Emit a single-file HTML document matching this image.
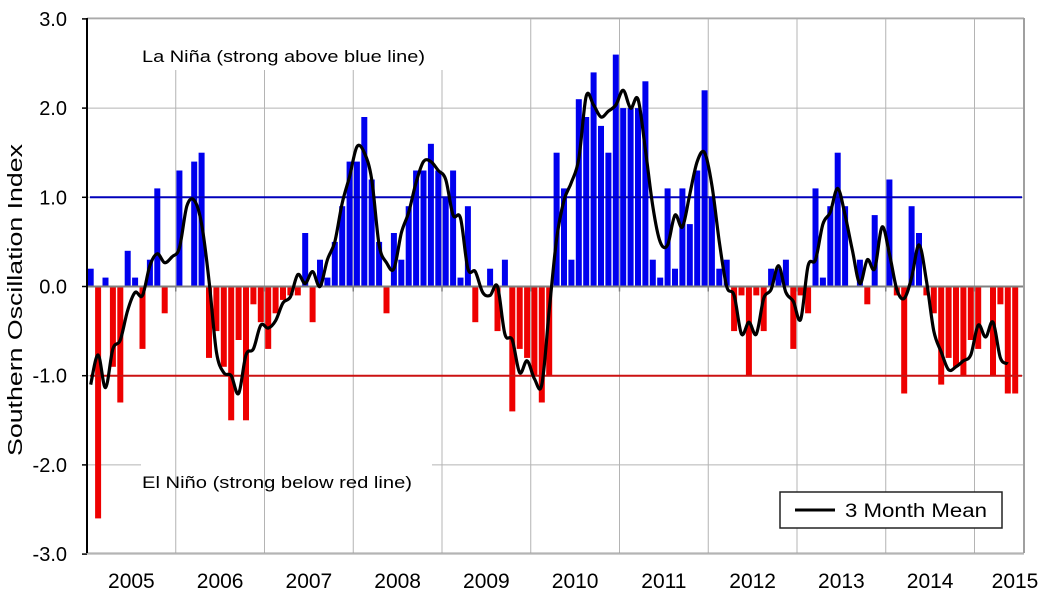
<!DOCTYPE html>
<html><head><meta charset="utf-8"><style>html,body{margin:0;padding:0;background:#fff}svg{display:block}text{font-family:"Liberation Sans",Arial,sans-serif}</style></head>
<body>
<svg id="c" width="1049" height="600" xmlns="http://www.w3.org/2000/svg"></svg>
<script>
const data=[
0.2,-2.6,0.1,-0.9,-1.3,0.4,0.1,-0.7,0.3,1.1,-0.3,0,
1.3,0,1.4,1.5,-0.8,-0.5,-0.9,-1.5,-0.6,-1.5,-0.2,-0.4,
-0.7,-0.3,-0.15,-0.1,-0.1,0.6,-0.4,0.3,0.1,0.5,0.9,1.4,
1.4,1.9,1.2,0.5,-0.3,0.6,0.3,0.9,1.3,1.3,1.6,1.3,
1.0,1.3,0.1,0.9,-0.4,0,0.2,-0.5,0.3,-1.4,-0.7,-0.8,
-1.0,-1.3,-1.0,1.5,1.1,0.3,2.1,1.9,2.4,1.8,1.5,2.6,
2.0,2.0,2.0,2.3,0.3,0.1,1.1,0.2,1.1,0.7,1.3,2.2,
1.0,0.2,0.3,-0.5,-0.1,-1.0,-0.1,-0.5,0.2,0.2,0.3,-0.7,
-0.1,-0.3,1.1,0.1,0.9,1.5,0.9,0,0.3,-0.2,0.8,0,
1.2,-0.1,-1.2,0.9,0.6,-0.1,-0.3,-1.1,-0.8,-0.9,-1.0,-0.6,
-0.7,0,-1.0,-0.2,-1.2,-1.2];
const L=87,R=1024,T=18,B=553,Z=286.5,U=89.2,YW=88.75,MW=YW/12;
const Y=v=>Z-v*U, X=i=>L+MW*(i+0.5);
let s='';
// grid verticals
for(let k=1;k<=10;k++){const x=L+k*YW;let y0=T;if(x<450)y0=70;s+=`<line x1="${x}" y1="${y0}" x2="${x}" y2="${B}" stroke="#b4b4b4" stroke-width="1"/>`;}
// grid horizontals
for(let v=-3;v<=3;v++){if(v==0)continue;const y=Y(v);
 if(v==-2){s+=`<line x1="${L}" y1="${y}" x2="141" y2="${y}" stroke="#b4b4b4"/><line x1="432" y1="${y}" x2="${R}" y2="${y}" stroke="#b4b4b4"/>`;}
 else s+=`<line x1="${L}" y1="${y}" x2="${R}" y2="${y}" stroke="#b4b4b4"/>`;}
// bars
data.forEach((v,i)=>{if(v==0)return;const x=X(i)-3;const y=v>0?Y(v):Z;const h=Math.abs(v)*U;
 s+=`<rect x="${x.toFixed(1)}" y="${y.toFixed(1)}" width="6" height="${h.toFixed(1)}" fill="${v>0?'#0000ee':'#ee0000'}"/>`;});
// zero line + strong lines
s+=`<line x1="${L}" y1="${Z}" x2="${R}" y2="${Z}" stroke="#808080" stroke-width="2"/>`;
for(let k=0;k<=10;k++){const x=L+k*YW;s+=`<line x1="${x}" y1="${Z}" x2="${x}" y2="${Z+5}" stroke="#808080" stroke-width="1.5"/>`;}
s+=`<line x1="${L+3}" y1="${Y(1)}" x2="${R-2}" y2="${Y(1)}" stroke="#0000bb" stroke-width="2"/>`;
s+=`<line x1="${L+3}" y1="${Y(-1)}" x2="${R-2}" y2="${Y(-1)}" stroke="#cc1111" stroke-width="2"/>`;
// 3-month mean
const ext=[-0.9].concat(data);const m=[];
for(let i=0;i<=124;i++){m.push([X(i),Y((ext[i]+ext[i+1]+ext[i+2])/3)]);}
let d=`M${m[0][0].toFixed(1)},${m[0][1].toFixed(1)}`;
for(let i=0;i<m.length-1;i++){const p0=m[Math.max(0,i-1)],p1=m[i],p2=m[i+1],p3=m[Math.min(m.length-1,i+2)];
 const c1=[p1[0]+(p2[0]-p0[0])/6,p1[1]+(p2[1]-p0[1])/6],c2=[p2[0]-(p3[0]-p1[0])/6,p2[1]-(p3[1]-p1[1])/6];
 d+=` C${c1[0].toFixed(1)},${c1[1].toFixed(1)} ${c2[0].toFixed(1)},${c2[1].toFixed(1)} ${p2[0].toFixed(1)},${p2[1].toFixed(1)}`;}
s+=`<path d="${d}" fill="none" stroke="#000" stroke-width="3.2" stroke-linejoin="round"/>`;
// borders
s+=`<line x1="${L}" y1="${T}" x2="${R}" y2="${T}" stroke="#a0a0a0"/><line x1="${R}" y1="${T}" x2="${R}" y2="${B}" stroke="#a0a0a0" stroke-width="2"/><line x1="${L}" y1="${B}" x2="${R}" y2="${B}" stroke="#a0a0a0"/>`;
s+=`<line x1="${L}" y1="${T}" x2="${L}" y2="${B}" stroke="#000" stroke-width="2"/>`;
for(let v=-3;v<=3;v++){const y=Y(v);s+=`<line x1="${L-5}" y1="${y}" x2="${L}" y2="${y}" stroke="#000" stroke-width="1.5"/>`;
 s+=`<text x="67" y="${y+7}" font-size="20" text-anchor="end">${v.toFixed(1)}</text>`;}
// year labels
for(let k=0;k<=10;k++){const cx=k<10?L+k*YW+YW/2:1015;s+=`<text x="${cx}" y="588" font-size="21" text-anchor="middle">${2005+k}</text>`;}
// annotations
s+=`<text x="142" y="62" font-size="17" textLength="283" lengthAdjust="spacingAndGlyphs">La Niña (strong above blue line)</text>`;
s+=`<text x="142" y="488" font-size="17" textLength="270" lengthAdjust="spacingAndGlyphs">El Niño (strong below red line)</text>`;
s+=`<text transform="translate(22,300) rotate(-90)" font-size="20" text-anchor="middle" textLength="312" lengthAdjust="spacingAndGlyphs">Southern Oscillation Index</text>`;
// legend
s+=`<rect x="780" y="492" width="222" height="36" fill="#fff" stroke="#222" stroke-width="1.5"/>`;
s+=`<line x1="795" y1="510" x2="835" y2="510" stroke="#000" stroke-width="3"/>`;
s+=`<text x="845" y="517" font-size="19" textLength="142" lengthAdjust="spacingAndGlyphs">3 Month Mean</text>`;
document.getElementById('c').innerHTML=s;
</script>
</body></html>
